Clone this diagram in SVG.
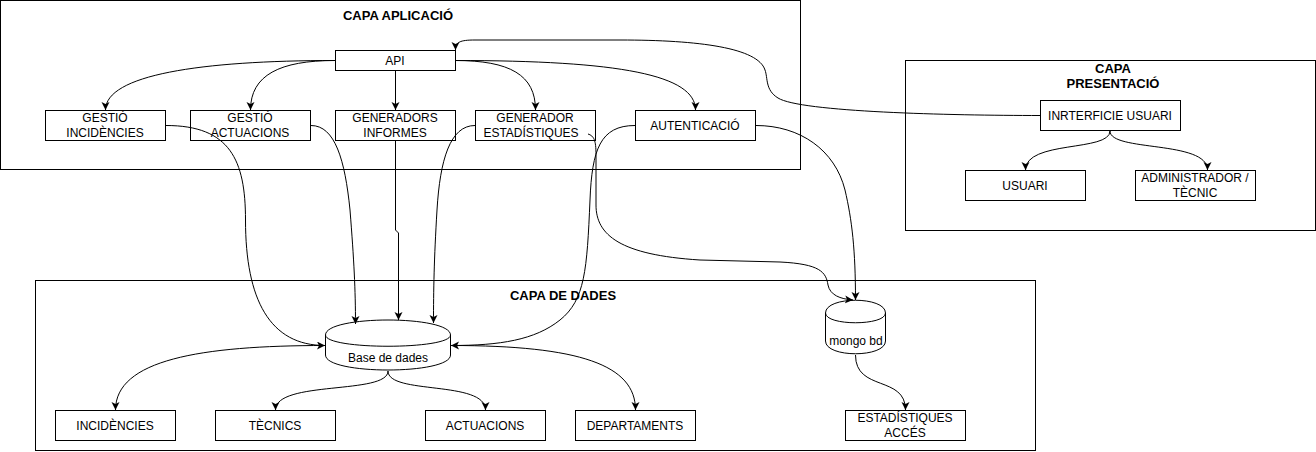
<svg xmlns="http://www.w3.org/2000/svg" width="1316" height="452" viewBox="0 0 1316 452">
<style>
.c{fill:#fff;stroke:#000;stroke-width:1}
.n{fill:#fff;stroke:#000;stroke-width:1}
.t{font-family:"Liberation Sans",Arial,sans-serif;font-size:12px;fill:#000;text-anchor:middle}
.h{font-family:"Liberation Sans",Arial,sans-serif;font-size:13px;font-weight:bold;fill:#000;text-anchor:middle}
.e{fill:none;stroke:#000;stroke-width:1;marker-end:url(#a)}
</style>
<defs>
<marker id="a" markerUnits="userSpaceOnUse" markerWidth="10" markerHeight="10" refX="8" refY="4" orient="auto" viewBox="0 0 10 10">
<path d="M0,0 L8,4 L0,8 L2,4 Z" fill="#000"/>
</marker>
</defs>
<rect width="1316" height="452" fill="#fff"/>
<g id="capa-aplicacio"><rect class="c" x="0.5" y="0.5" width="800" height="169"/><text class="h" x="398" y="20">CAPA APLICACIÓ</text></g>
<g id="capa-presentacio"><rect class="c" x="905.5" y="60.5" width="410" height="170"/><text class="h" x="1113" y="73">CAPA</text><text class="h" x="1113" y="88">PRESENTACIÓ</text></g>
<g id="capa-dades"><rect class="c" x="35.5" y="280.5" width="1000" height="170"/><text class="h" x="563" y="300">CAPA DE DADES</text></g>

<g id="api"><rect class="n" x="335.5" y="50.5" width="120" height="20"/><text class="t" x="395" y="64.5">API</text></g>
<g id="gestio-incidencies"><rect class="n" x="45.5" y="110.5" width="120" height="30"/><text class="t" x="105" y="122">GESTIÓ</text><text class="t" x="105" y="137">INCIDÈNCIES</text></g>
<g id="gestio-actuacions"><rect class="n" x="190.5" y="110.5" width="120" height="30"/><text class="t" x="250" y="122">GESTIÓ</text><text class="t" x="250" y="137">ACTUACIONS</text></g>
<g id="generadors-informes"><rect class="n" x="335.5" y="110.5" width="120" height="30"/><text class="t" x="395" y="122">GENERADORS</text><text class="t" x="395" y="137">INFORMES</text></g>
<g id="generador-estadistiques"><rect class="n" x="475.5" y="110.5" width="120" height="30"/><text class="t" x="535" y="122">GENERADOR</text><text class="t" x="531" y="137">ESTADÍSTIQUES</text></g>
<g id="autenticacio"><rect class="n" x="635.5" y="110.5" width="120" height="30"/><text class="t" x="695" y="129.5">AUTENTICACIÓ</text></g>

<g id="interficie-usuari"><rect class="n" x="1040.5" y="100.5" width="140" height="30"/><text class="t" x="1110" y="119.5">INRTERFICIE USUARI</text></g>
<g id="usuari"><rect class="n" x="965.5" y="170.5" width="120" height="30"/><text class="t" x="1025" y="189.5">USUARI</text></g>
<g id="administrador"><rect class="n" x="1135.5" y="170.5" width="120" height="30"/><text class="t" x="1195" y="182">ADMINISTRADOR /</text><text class="t" x="1195" y="197">TÈCNIC</text></g>

<g id="base-de-dades"><path class="n" d="M325.5,335 C325.5,315 450.5,315 450.5,335 L450.5,355 C450.5,375 325.5,375 325.5,355 Z"/><path fill="none" stroke="#000" d="M325.5,335 C325.5,350 450.5,350 450.5,335"/><text class="t" x="388" y="362">Base de dades</text></g>
<g id="mongo-bd"><path class="n" d="M825.5,313 C825.5,296 885.5,296 885.5,313 L885.5,341 C885.5,358 825.5,358 825.5,341 Z"/><path fill="none" stroke="#000" d="M825.5,313 C825.5,326 885.5,326 885.5,313"/><text class="t" x="856" y="345">mongo bd</text></g>

<g id="incidencies"><rect class="n" x="55.5" y="410.5" width="120" height="30"/><text class="t" x="115" y="429.5">INCIDÈNCIES</text></g>
<g id="tecnics"><rect class="n" x="215.5" y="410.5" width="120" height="30"/><text class="t" x="275" y="429.5">TÈCNICS</text></g>
<g id="actuacions"><rect class="n" x="425.5" y="410.5" width="120" height="30"/><text class="t" x="485" y="429.5">ACTUACIONS</text></g>
<g id="departaments"><rect class="n" x="575.5" y="410.5" width="120" height="30"/><text class="t" x="635" y="429.5">DEPARTAMENTS</text></g>
<g id="estadistiques-acces"><rect class="n" x="845.5" y="410.5" width="120" height="30"/><text class="t" x="905" y="422">ESTADÍSTIQUES</text><text class="t" x="905" y="437">ACCÉS</text></g>

<g id="connectors">
<path class="e" d="M335,60.5 C200,60.5 105.5,75 105.5,110"/>
<path class="e" d="M335,60.5 C280,60.5 250.5,75 250.5,110"/>
<path class="e" d="M395.5,71 L395.5,110"/>
<path class="e" d="M455,60.5 C510,60.5 535.5,75 535.5,110"/>
<path class="e" d="M455,60.5 C620,60.5 695.5,75 695.5,110"/>
<path class="e" d="M1040,115.5 C950,115.5 800,112 778,98 C765,90 768,78 765,70 C758,48 700,40 620,40 L475,40 C460,40 455.5,42 455.5,50"/>
<path class="e" d="M1110,131 C1110,152 1025.5,140 1025.5,170"/>
<path class="e" d="M1110,131 C1110,152 1207.5,140 1207.5,170"/>
<path class="e" d="M166,125.5 C230,125.5 245.5,160 245.5,220 C245.5,300 270,345.5 325,345.5"/>
<path class="e" d="M311,125.5 C335,125.5 345,160 350,210 C354,260 355.5,290 355.5,324"/>
<path class="e" d="M395.5,141 L395.5,230 L398.5,233 L398.5,320"/>
<path class="e" d="M475,125.5 C450,125.5 440,160 437,210 C434,260 433.5,290 433.5,323"/>
<path class="e" d="M635,125.5 C600,125.5 592,150 590,200 C587,270 585,300 560,320 C535,340 500,345.5 451,345.5"/>
<path class="e" d="M588,134 C594,136 596,140 596,155 L596,205 C596,235 620,255 700,260 L780,262 C820,264 826,272 828,285 C830,295 840,299 853,300"/>
<path class="e" d="M756,125.5 C800,125.5 835,150 845,190 C852,220 855.5,250 855.5,300"/>
<path class="e" d="M325,345.5 C200,345.5 115.5,360 115.5,410"/>
<path class="e" d="M388,371 C388,395 275.5,380 275.5,410"/>
<path class="e" d="M388,371 C388,395 485.5,380 485.5,410"/>
<path class="e" d="M451,345.5 C580,345.5 635.5,365 635.5,410"/>
<path class="e" d="M855.5,355 C855.5,392 905.5,375 905.5,410"/>
</g>
</svg>
